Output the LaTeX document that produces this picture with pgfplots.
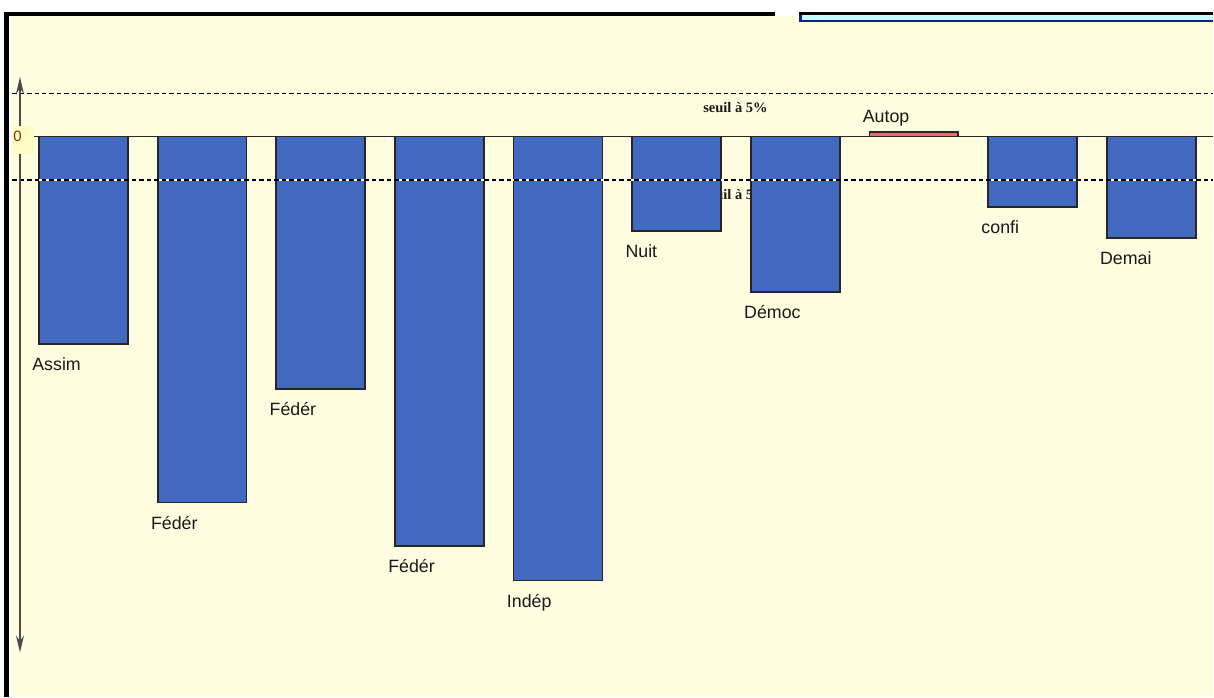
\documentclass[border=0pt]{standalone}
\usepackage{fontspec}
\setmainfont{Liberation Sans}
\newfontfamily\seuilfont{Liberation Serif}
\usepackage{pgfplots}
\usepackage{pgfplotstable}
\pgfplotsset{compat=1.18}
\usetikzlibrary{arrows.meta}

\definecolor{fond}{HTML}{FFFDE0}
\definecolor{fondzero}{HTML}{FFFBC4}
\definecolor{barre}{HTML}{4169BF}
\definecolor{rouge}{HTML}{E86D6D}
\definecolor{bandeau}{HTML}{C8FFFF}
\definecolor{marine}{HTML}{10208A}

% valeurs des ecarts (seuil a 5% = 1.96)
\pgfplotstableread{
x y lab
0 -9.38 Assim
1 -16.58 Fédér
2 -11.42 Fédér
3 -18.53 Fédér
4 -20.11 Indép
5 -4.27 Nuit
6 -7.03 Démoc
8 -3.18 confi
9 -4.59 Demai
}\negatifs
\pgfplotstableread{
x y lab
7 0.19 Autop
}\positifs

\begin{document}
\begin{tikzpicture}
\begin{axis}[
    scale only axis,
    width=1214bp, height=698bp,
    xmin=-0.7033, xmax=9.5224,
    ymin=-25.41, ymax=6.188,
    hide axis, clip=false,
    ybar, bar width=89bp, bar shift=0pt,
    point meta=explicit symbolic,
    nodes near coords,
    every node near coord/.append style={inner sep=0pt,
        font=\fontsize{17.8bp}{20bp}\selectfont, text=black!90},
]
% fond et cadre
\fill[white] (rel axis cs:0,0) rectangle (rel axis cs:1,1);
\fill[fond] (rel axis cs:0.00988,0) rectangle (rel axis cs:1,0.97708);
\fill[black] (rel axis cs:0.0033,0) rectangle (rel axis cs:0.0074,0.98281);
\fill[black] (rel axis cs:0.0033,0.97708) rectangle (rel axis cs:0.6392,0.98281);
\fill[black] (rel axis cs:0.659,0.97851) rectangle (rel axis cs:1,0.98281);
\fill[bandeau] (rel axis cs:0.659,0.97135) rectangle (rel axis cs:1,0.97851);
\fill[marine] (rel axis cs:0.659,0.96848) rectangle (rel axis cs:1,0.97135);
\fill[marine] (rel axis cs:0.659,0.96848) rectangle (rel axis cs:0.6607,0.97851);

% texte du seuil inferieur, cache par les barres
\node[font=\seuilfont\bfseries\fontsize{14.5bp}{16bp}\selectfont, text=black!90]
    at (axis cs:5.496,-2.64) {seuil à 5\%};

\addplot[fill=barre, draw=black!85, line width=1.8bp,
    every node near coord/.append style={anchor=base west, xshift=-52bp, yshift=-27bp}]
    table[x=x, y=y, meta=lab] {\negatifs};
\addplot[fill=rouge, draw=black!85, line width=1.8bp,
    every node near coord/.append style={anchor=base west, xshift=-52bp, yshift=9.5bp}]
    table[x=x, y=y, meta=lab] {\positifs};

% lignes du seuil a 5%
\draw[white, line width=1.6bp] (axis cs:-0.602,1.96) -- (axis cs:9.5224,1.96);
\draw[black, line width=1.6bp, dash pattern=on 4.5bp off 3bp] (axis cs:-0.602,1.96) -- (axis cs:9.5224,1.96);
\draw[white, line width=1.6bp] (axis cs:-0.602,-1.96) -- (axis cs:9.5224,-1.96);
\draw[black, line width=1.6bp, dash pattern=on 4.5bp off 3bp] (axis cs:-0.602,-1.96) -- (axis cs:9.5224,-1.96);
\node[font=\seuilfont\bfseries\fontsize{14.5bp}{16bp}\selectfont, text=black!90]
    at (axis cs:5.496,1.30) {seuil à 5\%};

% ligne zero et fleche
\draw[line width=1.7bp, black!85] (axis cs:-0.417,0) -- (axis cs:9.5224,0);
\draw[{Stealth[open,fill=white,length=17bp,width=8bp]}-{Stealth[open,fill=white,length=17bp,width=8bp]},
    line width=1.7bp, black!70] (axis cs:-0.5349,2.70) -- (axis cs:-0.5349,-23.37);
\fill[fondzero] (axis cs:-0.6022,0.484) rectangle (axis cs:-0.4170,-0.783);
\node[font=\fontsize{15bp}{17bp}\selectfont, text=black!55!orange] at (axis cs:-0.555,0) {0};
\end{axis}
\end{tikzpicture}
\end{document}
